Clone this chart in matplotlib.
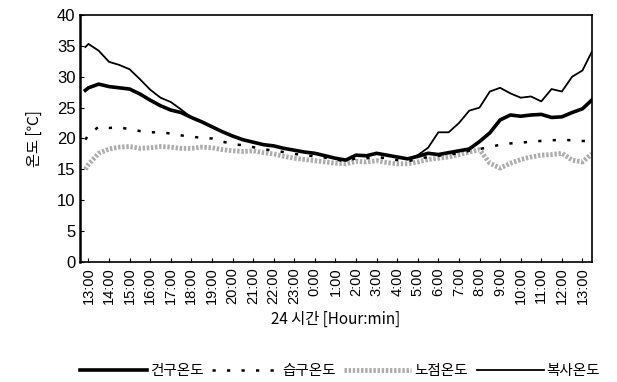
import numpy as np
import matplotlib
matplotlib.use("Agg")
import matplotlib.pyplot as plt

plt.rcParams["font.family"] = ["Noto Sans CJK KR", "DejaVu Sans"]

# hours since 13:00, half-hour steps (plus start/end points at the frame)
hours = [-0.15] + [i * 0.5 for i in range(49)] + [24.45]
tick_labels = ["13:00", "14:00", "15:00", "16:00", "17:00", "18:00", "19:00",
               "20:00", "21:00", "22:00", "23:00", "0:00", "1:00", "2:00",
               "3:00", "4:00", "5:00", "6:00", "7:00", "8:00", "9:00",
               "10:00", "11:00", "12:00", "13:00"]

dry_bulb = [27.8, 28.2, 28.8, 28.4, 28.2, 28.0, 27.2, 26.2, 25.3, 24.6, 24.2,
            23.4, 22.7, 21.9, 21.1, 20.4, 19.8, 19.4, 19.0, 18.8, 18.4,
            18.1, 17.8, 17.6, 17.2, 16.8, 16.5, 17.3, 17.2, 17.6, 17.3,
            17.0, 16.7, 17.1, 17.6, 17.4, 17.7, 18.0, 18.3, 19.5, 20.9,
            23.0, 23.8, 23.6, 23.8, 23.9, 23.4, 23.5, 24.2, 24.8, 26.2]
wet_bulb = [19.8, 20.6, 21.9, 21.7, 21.8, 21.5, 21.2, 21.0, 21.0, 20.8, 20.5,
            20.3, 20.1, 20.0, 19.5, 19.1, 18.9, 18.6, 18.3, 18.0, 17.8,
            17.5, 17.3, 17.1, 16.9, 16.6, 16.3, 16.8, 16.8, 17.0, 16.8,
            16.5, 16.3, 16.7, 17.0, 17.2, 17.4, 17.6, 18.0, 18.3, 18.6,
            19.0, 19.2, 19.3, 19.5, 19.6, 19.7, 19.8, 19.7, 19.6, 19.5]
dew_point = [15.0, 15.8, 17.6, 18.3, 18.6, 18.7, 18.4, 18.5, 18.7, 18.6, 18.4,
             18.4, 18.6, 18.5, 18.2, 18.0, 17.9, 18.0, 17.7, 17.5, 17.1,
             16.8, 16.6, 16.4, 16.2, 16.0, 15.9, 16.3, 16.2, 16.4, 16.1,
             15.9, 15.9, 16.2, 16.6, 16.8, 17.0, 17.4, 17.8, 18.2, 16.0,
             15.2, 16.0, 16.6, 17.0, 17.3, 17.4, 17.6, 16.5, 16.2, 17.5]
radiant = [34.8, 35.3, 34.2, 32.4, 31.9, 31.2, 29.6, 27.9, 26.6, 25.9, 24.7,
           23.4, 22.7, 21.9, 21.1, 20.4, 19.8, 19.4, 19.0, 18.8, 18.4,
           18.1, 17.8, 17.6, 17.2, 16.8, 16.5, 17.3, 17.2, 17.6, 17.3,
           17.0, 16.7, 17.3, 18.5, 21.0, 21.0, 22.5, 24.5, 25.0, 27.6,
           28.2, 27.3, 26.6, 26.8, 26.0, 28.0, 27.6, 30.0, 31.0, 34.0]

fig = plt.figure(figsize=(6.17, 3.82), dpi=100)
ax = fig.add_axes([0.130, 0.314, 0.829, 0.647])

ax.plot(hours, dew_point, color="0.68", lw=3.5, dashes=(0.5, 0.35), label="노점온도", zorder=1)
ax.plot(hours, wet_bulb, color="black", lw=1.8, dashes=(1.3, 4.5), label="습구온도", zorder=2)
ax.plot(hours, radiant, color="black", lw=1.3, label="복사온도", zorder=3)
ax.plot(hours, dry_bulb, color="black", lw=2.6, label="건구온도", zorder=4)

ax.set_xlim(-0.4, 24.45)
ax.set_ylim(0, 40)
ax.set_yticks(range(0, 41, 5))
ax.set_xticks(range(25))
ax.set_xticklabels(tick_labels, rotation=90, fontsize=10.5, family="Liberation Sans")
ax.tick_params(axis="y", labelsize=12, direction="in", length=3)
ax.tick_params(axis="x", direction="in", length=3)
for lab in ax.get_yticklabels():
    lab.set_family("Liberation Sans")
for s in ax.spines.values():
    s.set_linewidth(1.2)
ax.spines["left"].set_linewidth(1.8)

ax.set_ylabel("온도 [℃]", fontsize=11, labelpad=10)
ax.set_xlabel("24 시간 [Hour:min]", fontsize=11, labelpad=5)

handles, labels = ax.get_legend_handles_labels()
order = [3, 1, 0, 2]
fig.legend([handles[i] for i in order], [labels[i] for i in order],
           loc="lower center", bbox_to_anchor=(0.551, -0.025), ncol=4,
           frameon=False, fontsize=10.5, handlelength=4.6, handletextpad=0.2,
           columnspacing=0.6)

fig.savefig("out.png", dpi=100)
